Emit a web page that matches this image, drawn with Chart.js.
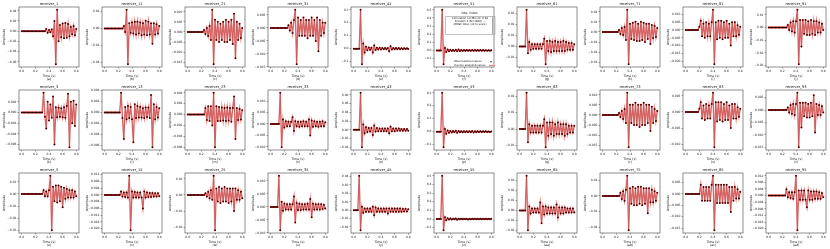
<!DOCTYPE html>
<html>
<head>
<meta charset="utf-8">
<script src="https://cdn.jsdelivr.net/npm/chart.js@4.4.1/dist/chart.umd.min.js"></script>
<style>
html, body { margin: 0; padding: 0; background: #fff; }
#grid { position: relative; width: 830px; height: 249px; }
#grid canvas { position: absolute; }
</style>
</head>
<body>
<div id="grid"></div>
<script>
// Tempo (s) comum a todos os receptores
const time = [0.00,0.02,0.04,0.06,0.08,0.10,0.12,0.14,0.16,0.18,0.20,0.22,0.24,0.26,0.28,0.30,0.32,0.34,0.36,0.38,0.40,
              0.42,0.44,0.46,0.48,0.50,0.52,0.54,0.56,0.58,0.60,0.62,0.64,0.66,0.68,0.70,0.72,0.74,0.76,0.78,0.80];
const xTicks = [0.0, 0.2, 0.4, 0.6, 0.8];

const titles = [
    'receiver_1', 'receiver_11', 'receiver_21', 'receiver_31', 'receiver_41',
    'receiver_51', 'receiver_61', 'receiver_71', 'receiver_81', 'receiver_91',
    'receiver_3', 'receiver_13', 'receiver_23', 'receiver_33', 'receiver_43',
    'receiver_53', 'receiver_63', 'receiver_73', 'receiver_83', 'receiver_93',
    'receiver_5', 'receiver_15', 'receiver_25', 'receiver_35', 'receiver_45',
    'receiver_55', 'receiver_65', 'receiver_75', 'receiver_85', 'receiver_95'
];
const panelTags = ['(a)','(b)','(c)','(d)','(e)','(f)','(g)','(h)','(i)','(j)',
                   '(k)','(l)','(m)','(n)','(o)','(p)','(q)','(r)','(s)','(t)',
                   '(u)','(v)','(w)','(x)','(y)','(z)','(aa)','(ab)','(ac)','(ad)'];

// Ticks do eixo Y de cada painel
const yTicks = [
    [0.04,0.02,0,-0.02,-0.04,-0.06], [0.02,0,-0.02,-0.04], [0.010,0.005,0,-0.005,-0.010,-0.015],
    [0.005,0,-0.005,-0.010,-0.015], [0.3,0.2,0.1,0,-0.1], [0.5,0.4,0.3,0.2,0.1,0,-0.1],
    [0.03,0.02,0.01,0,-0.01,-0.02], [0.02,0.01,0,-0.01,-0.02,-0.03], [0.010,0.005,0,-0.005,-0.010,-0.015,-0.020],
    [0.01,0,-0.01,-0.02,-0.03],
    [0.002,0,-0.002,-0.004,-0.006], [0.004,0.002,0,-0.002,-0.004,-0.006], [0.004,0.002,0,-0.002,-0.004,-0.006],
    [0.010,0.005,0,-0.005,-0.010], [0.08,0.06,0.04,0.02,0,-0.02,-0.04], [0.3,0.2,0.1,0,-0.1],
    [0.02,0.01,0,-0.01], [0.010,0.005,0,-0.005,-0.010,-0.015], [0.005,0,-0.005,-0.010],
    [0.005,0,-0.005,-0.010,-0.015],
    [0.01,0,-0.01,-0.02,-0.03], [0.012,0.008,0.004,0,-0.004,-0.008,-0.012,-0.016,-0.020], [0.01,0,-0.01,-0.02],
    [0.010,0.005,0,-0.005,-0.010], [0.04,0.03,0.02,0.01,0,-0.01,-0.02], [0.5,0.4,0.3,0.2,0.1,0,-0.1],
    [0.03,0.02,0.01,0,-0.01,-0.02], [0.01,0,-0.01,-0.02], [0.005,0,-0.005,-0.010,-0.015],
    [0.012,0.008,0.004,0,-0.004,-0.008,-0.012,-0.016,-0.020]
];

// Amplitudes lidas de cada painel (uma entrada por instante de "time")
// linha 1
const sigA = [0,0,0,0,0,0,0,0,0,0,0,0,0,0,0,0,0,0,
    0.004,-0.003,0.002,-0.002,0.003,-0.01,0.02,-0.065,0.042,-0.02,0.012,-0.012,0.015,-0.014,0.016,-0.013,0.014,-0.01,0.008,-0.006,0.01,-0.008,0.004];
const sigB = [0,0,0,0,0,0,0,0,0,0,0,0,0,0,
    0.003,-0.004,0.022,-0.042,0.006,-0.005,0.007,-0.006,0.008,-0.007,0.008,-0.006,0.007,-0.008,0.006,-0.007,0.009,-0.008,0.008,-0.007,0.006,-0.018,0.006,-0.007,0.005,-0.006,0.003];
const sigC = [0,0,0,0,0,0,0,0,0,0,0,0,
    0.001,-0.001,0.002,-0.002,0.003,-0.004,0.011,-0.016,0.006,-0.004,0.005,-0.005,0.004,-0.004,0.005,-0.005,0.006,-0.005,0.005,-0.004,0.006,-0.006,0.009,-0.013,0.005,-0.004,0.004,-0.003,0.002];
const sigD = [0,0,0,0,0,0,0,0,0,0,0,0,0,
    0.001,-0.001,0.002,-0.002,0.003,0.007,-0.014,0.004,-0.003,0.003,-0.003,0.004,-0.003,0.003,-0.004,0.003,-0.003,0.004,-0.003,0.003,-0.005,0.004,-0.009,0.003,-0.003,0.002,-0.002,0.002];
const sigE = [0,0,0,0,0,
    0.3,-0.12,0.04,-0.03,0.015,-0.012,0.01,-0.008,0.008,-0.03,0.025,-0.01,0.008,-0.006,0.007,-0.006,0.006,-0.005,0.006,-0.005,
    0.005,-0.02,0.018,-0.006,0.005,-0.005,0.005,-0.004,0.005,-0.004,0.004,-0.004,0.004,-0.003,0.003,-0.003];
const sigF = [0,0,0,0,
    0.5,-0.17,0.03,-0.02,0.012,-0.01,0.008,-0.008,0.006,-0.006,0.008,-0.01,0.012,-0.008,0.006,-0.006,0.005,-0.005,0.006,-0.005,
    0.005,-0.005,0.004,-0.004,0.004,-0.005,0.005,-0.004,0.004,-0.004,0.004,-0.004,0.003,-0.003,0.003,-0.003,0.002];
const sigG = [0,0,0,0,0,
    0.033,-0.006,0.004,-0.003,0.002,-0.002,0.002,-0.002,0.002,-0.002,0.002,-0.002,0.002,0.007,-0.016,
    0.005,-0.004,0.005,-0.005,0.004,-0.004,0.005,-0.004,0.004,-0.004,0.004,-0.004,0.005,-0.004,0.004,-0.003,0.003,-0.003,0.003,-0.003,0.002];
const sigH = [0,0,0,0,0,0,0,0,0,0,0,0,
    0.002,-0.002,0.004,-0.003,0.005,-0.008,0.022,-0.032,0.008,-0.007,0.009,-0.008,0.01,-0.009,0.008,-0.009,0.01,-0.008,0.009,-0.01,0.008,-0.007,0.008,-0.012,0.007,-0.006,0.006,-0.005,0.004];
const sigI = [0,0,0,0,0,0,0,0,0,0,
    0.002,0.006,-0.004,0.004,-0.005,0.005,-0.004,0.004,-0.004,0.005,0.013,-0.022,0.005,-0.006,0.006,-0.005,0.006,-0.006,0.005,-0.005,0.006,-0.005,0.004,-0.01,0.005,-0.004,0.005,-0.004,0.003,-0.003,0.002];
const sigJ = [0,0,0,0,0,0,0,0,0,0,0,0,0,0,
    0.002,-0.002,0.004,-0.003,0.005,-0.004,0.005,0.014,-0.029,0.006,-0.015,0.006,-0.005,0.006,-0.006,0.005,-0.006,0.006,-0.005,0.005,-0.006,0.005,-0.004,0.004,-0.004,0.003,-0.002];
// linha 2
const sigK = [0,0,0,0,0,0,0,0,0,0,0,0,0,0,0,0,
    0.0037,-0.0008,-0.003,0.002,-0.0015,0.0015,-0.001,0.003,-0.006,0.001,-0.0009,0.0009,-0.0008,0.0008,-0.0009,0.001,-0.001,0.0012,0.0035,-0.0065,0.002,-0.002,0.0022,-0.0025,0.0015];
const sigL = [0,0,0,0,0,0,0,0,0,0,0,0,
    0.0036,-0.001,-0.0048,0.001,-0.0012,0.0012,-0.001,0.001,-0.0012,-0.0054,0.0015,-0.001,0.0012,-0.0009,0.001,-0.0009,0.0008,-0.001,0.0009,-0.0008,0.0009,-0.001,0.0032,-0.0063,0.0015,-0.0012,0.001,-0.0009,0.0008];
const sigM = [0,0,0,0,0,0,0,0,0,0,0,0,0,
    0.0012,-0.001,0.0015,-0.0012,0.0015,-0.002,0.004,-0.006,0.0015,-0.0012,0.0014,-0.0012,0.0013,-0.0011,0.0012,-0.0012,0.0013,-0.0011,0.0012,-0.0013,0.0012,0.0033,-0.0045,0.0012,-0.001,0.001,-0.0009,0.0008];
const sigN = [0,0,0,0,0,0,0,
    0.0137,-0.0102,0.002,-0.0015,0.0012,-0.001,0.001,-0.001,0.001,0.003,-0.003,0.0012,-0.001,0.001,-0.0012,0.001,-0.001,0.0012,-0.001,0.001,
    -0.001,0.002,-0.005,0.0015,-0.0012,0.0012,-0.001,0.001,-0.0012,0.001,-0.001,0.0012,-0.001,0.0008];
const sigO = [0,0,0,0,0,
    0.085,-0.04,0.012,-0.008,0.006,-0.005,0.004,-0.004,0.004,-0.012,0.01,-0.004,0.004,-0.003,0.003,-0.003,0.003,-0.003,0.003,-0.003,
    0.003,-0.008,0.007,-0.003,0.003,-0.003,0.003,-0.002,0.003,-0.002,0.002,-0.002,0.002,-0.002,0.002,-0.002];
const sigP = [0,0,0,0,
    0.3,-0.12,0.02,-0.015,0.01,-0.008,0.006,-0.006,0.005,-0.005,0.008,-0.008,0.005,-0.005,0.004,-0.004,0.004,-0.004,0.004,-0.004,
    0.004,-0.004,0.006,-0.006,0.004,-0.004,0.003,-0.003,0.003,-0.003,0.003,-0.003,0.003,-0.003,0.002,-0.002,0.002];
const sigQ = [0,0,0,0,0,
    0.022,-0.008,0.003,-0.002,0.002,-0.002,0.002,-0.002,0.002,-0.002,0.002,-0.002,0.002,0.006,-0.011,0.004,-0.004,0.004,-0.003,0.004,
    -0.004,0.003,-0.003,0.004,-0.003,0.003,-0.003,0.003,-0.004,0.003,-0.003,0.002,-0.002,0.002,-0.002,0.002];
const sigR = [0,0,0,0,0,0,0,0,0,0,0,0,
    0.001,-0.001,0.002,-0.002,0.003,-0.004,0.011,-0.016,0.005,-0.004,0.005,-0.005,0.006,-0.005,0.005,-0.006,0.005,-0.005,0.006,-0.005,0.005,-0.004,0.005,-0.008,0.004,-0.004,0.003,-0.003,0.002];
const sigS = [0,0,0,0,0,0,0,0,0,0,
    0.001,0.003,-0.002,0.002,-0.0025,0.0025,-0.002,0.002,-0.002,0.0025,0.006,-0.011,0.003,-0.003,0.003,-0.0025,0.003,-0.003,0.0025,-0.0025,0.003,-0.0025,0.002,-0.005,0.0025,-0.002,0.0025,-0.002,0.0015,-0.0015,0.001];
const sigT = [0,0,0,0,0,0,0,0,0,0,0,0,0,0,
    0.001,-0.001,0.002,-0.0015,0.0025,-0.002,0.0025,0.007,-0.015,0.003,-0.007,0.003,-0.0025,0.003,-0.003,0.0025,-0.003,0.003,-0.0025,0.006,-0.009,0.0025,-0.002,0.002,-0.002,0.0015,-0.001];
// linha 3
const sigU = [0,0,0,0,0,0,0,0,0,0,0,0,0,0,0,0,
    0.003,-0.002,0.002,-0.002,0.003,0.015,-0.03,0.006,-0.006,0.007,-0.007,0.007,-0.006,0.006,-0.011,0.005,-0.004,0.004,-0.003,0.003,-0.003,0.003,-0.003,0.002,-0.002];
const sigV = [0,0,0,0,0,0,0,0,0,0,0,0,
    0.002,-0.001,0.0015,-0.0012,0.0015,-0.0015,0.0114,-0.021,0.002,-0.0015,0.0018,-0.0015,0.0015,-0.0015,0.0015,-0.0015,-0.008,0.002,-0.0015,0.0015,-0.0012,0.0012,-0.0012,0.0012,-0.001,0.001,-0.001,0.001,-0.0008];
const sigW = [0,0,0,0,0,0,0,0,0,0,0,0,0,
    0.001,-0.001,0.002,-0.002,0.003,-0.003,0.012,-0.022,0.004,-0.004,0.005,-0.005,0.004,-0.004,0.005,-0.004,0.004,-0.005,0.004,-0.004,0.004,-0.01,0.004,-0.003,0.003,-0.003,0.002,-0.002];
const sigX = [0,0,0,0,0,0,
    0.012,-0.009,0.002,-0.0015,0.0012,-0.001,0.001,-0.001,0.001,-0.001,0.001,0.004,-0.006,0.0015,-0.0012,0.0012,-0.0012,0.001,-0.001,0.001,
    -0.001,0.0012,-0.001,0.003,-0.004,0.0012,-0.001,0.001,-0.001,0.001,-0.001,0.001,-0.0008,0.0008,-0.0006];
const sigY = [0,0,0,0,
    0.041,-0.024,0.004,-0.003,0.002,-0.002,0.002,-0.002,0.002,-0.002,0.004,-0.006,0.003,-0.002,0.002,-0.002,0.002,-0.002,0.002,-0.002,
    0.002,-0.004,0.002,-0.002,0.002,-0.002,0.002,-0.002,0.002,-0.002,0.002,-0.002,0.0015,-0.0015,0.0015,-0.0015,0.001];
const sigZ = [0,0,0,0,
    0.5,-0.13,0.02,-0.015,0.008,-0.006,0.005,-0.005,0.004,-0.004,0.006,-0.008,0.004,-0.004,0.003,-0.003,0.003,-0.003,0.004,-0.005,
    0.003,-0.003,0.003,-0.003,0.003,-0.003,0.003,-0.003,0.002,-0.002,0.002,-0.002,0.002,-0.002,0.002,-0.002,0.002];
const sigAA = [0,0,0,0,0,
    0.035,-0.02,0.004,-0.003,0.002,-0.002,0.002,-0.002,0.002,-0.002,0.008,-0.013,0.004,-0.004,0.004,-0.003,0.003,-0.003,0.003,-0.003,
    0.003,-0.003,0.006,-0.007,0.003,-0.003,0.003,-0.003,0.003,-0.002,0.002,-0.002,0.002,-0.002,0.002,-0.002];
const sigAB = [0,0,0,0,0,0,0,0,0,0,0,0,0,
    0.002,-0.002,0.003,-0.003,0.004,0.013,-0.022,0.005,-0.005,0.006,-0.006,0.005,-0.006,0.006,-0.005,0.006,-0.006,0.005,-0.005,0.005,-0.011,0.005,-0.004,0.004,-0.004,0.003,-0.003,0.002];
const sigAC = [0,0,0,0,0,0,0,0,0,0,0,
    0.004,-0.003,0.003,-0.003,0.003,-0.003,0.003,-0.003,0.004,0.008,-0.016,0.004,-0.004,0.004,-0.004,0.004,-0.004,0.004,-0.004,0.004,-0.004,0.003,-0.008,0.003,-0.003,0.003,-0.002,0.002,-0.002,0.001];
const sigAD = [0,0,0,0,0,0,0,0,0,0,0,0,0,
    0.0038,-0.001,0.002,-0.0015,0.002,-0.002,0.002,0.012,-0.021,0.003,-0.0025,0.003,-0.0025,0.003,-0.0025,-0.007,0.003,-0.0025,0.0025,-0.0025,0.0025,-0.002,0.0025,-0.002,0.002,-0.002,0.0015,-0.001];

const signals = [sigA, sigB, sigC, sigD, sigE, sigF, sigG, sigH, sigI, sigJ,
                 sigK, sigL, sigM, sigN, sigO, sigP, sigQ, sigR, sigS, sigT,
                 sigU, sigV, sigW, sigX, sigY, sigZ, sigAA, sigAB, sigAC, sigAD];

const FONT = '"DejaVu Sans", sans-serif';
Chart.defaults.font.family = FONT;

// Moldura, títulos e legenda (estilo matplotlib)
const framePlugin = {
    id: 'frame',
    afterDraw(chart, args, opts) {
        const { ctx, chartArea: a } = chart;
        const cx = (a.left + a.right) / 2;
        ctx.save();
        ctx.strokeStyle = '#444';
        ctx.lineWidth = 0.6;
        ctx.strokeRect(a.left, a.top, a.right - a.left, a.bottom - a.top);

        ctx.fillStyle = '#111';
        ctx.textAlign = 'center';
        ctx.textBaseline = 'middle';
        ctx.font = '3.6px ' + FONT;
        ctx.fillText(opts.title, cx, a.top - 3);
        ctx.font = '3.2px ' + FONT;
        ctx.fillText('Time (s)', cx, a.bottom + 9.3);
        ctx.fillText(opts.tag, cx, a.bottom + 12.4);

        if (opts.legend) {
            ctx.font = '3px ' + FONT;
            ctx.fillText('Obs. index:', a.left + 36, a.top + 6.3);
            ctx.strokeStyle = '#999';
            ctx.lineWidth = 0.6;
            ctx.strokeRect(a.left + 11.7, a.top + 9.7, 49.3, 17.6);
            ctx.fillStyle = '#aaa';
            ctx.fillRect(a.right - 2, a.top + 9.7, 1.2, 17.6);
            ctx.fillStyle = '#111';
            ctx.font = '2.6px ' + FONT;
            ctx.fillText('Correlation coefficient: 0.98', a.left + 36, a.top + 11.4);
            ctx.fillText('Iteration 1 (N=1000) \u2014', a.left + 36, a.top + 14);
            ctx.fillText('(RMSE total, not to scale)', a.left + 36, a.top + 17);

            ctx.textAlign = 'left';
            ctx.fillText('Observational values', a.left + 20.3, a.bottom - 5.3);
            ctx.fillText('Inverse analyzed values', a.left + 20.3, a.bottom - 1.5);
            ctx.beginPath();
            ctx.arc(a.left + 57, a.bottom - 5.3, 0.7, 0, Math.PI * 2);
            ctx.fill();
            ctx.strokeStyle = '#ef8a8a';
            ctx.lineWidth = 1.3;
            ctx.beginPath();
            ctx.moveTo(a.left + 55, a.bottom - 1.5);
            ctx.lineTo(a.left + 61, a.bottom - 1.5);
            ctx.stroke();
        }

        ctx.fillStyle = '#111';
        ctx.font = '3.2px ' + FONT;
        ctx.textAlign = 'center';
        ctx.translate(4, (a.top + a.bottom) / 2);
        ctx.rotate(-Math.PI / 2);
        ctx.fillText('Amplitude', 0, 0);
        ctx.restore();
    }
};

function casasDecimais(ticks) {
    return Math.max(...ticks.map(v => (String(v).split('.')[1] || '').length));
}

const grid = document.getElementById('grid');

signals.forEach((sig, i) => {
    const col = i % 10;
    const row = Math.floor(i / 10);
    const canvas = document.createElement('canvas');
    canvas.width = 83;
    canvas.height = 83;
    canvas.style.left = (col * 83) + 'px';
    canvas.style.top = (row * 83) + 'px';
    grid.appendChild(canvas);

    const pts = time.map((t, k) => ({ x: t, y: sig[k] }));
    const lo = Math.min(...sig);
    const hi = Math.max(...sig);
    const pad = (hi - lo) * 0.05;
    const yMin = lo - pad;
    const yMax = hi + pad;
    const ticksY = yTicks[i].filter(v => v >= yMin && v <= yMax);
    const dec = casasDecimais(yTicks[i]);

    new Chart(canvas, {
        type: 'line',
        data: {
            datasets: [
                {
                    // primeiro dataset fica por cima
                    label: 'Observational values',
                    data: pts,
                    borderColor: 'rgba(30,0,0,0.35)',
                    borderWidth: 0.4,
                    pointRadius: 0.75,
                    pointBackgroundColor: '#1a0505',
                    pointBorderWidth: 0,
                    tension: 0
                },
                {
                    label: 'Inverse analyzed values',
                    data: pts,
                    borderColor: '#ec7474',
                    borderWidth: 1.4,
                    pointRadius: 1,
                    pointBackgroundColor: '#cc1515',
                    pointBorderWidth: 0,
                    tension: 0
                }
            ]
        },
        options: {
            responsive: false,
            animation: false,
            events: [],
            layout: { padding: { top: 7, right: 1, left: 0, bottom: 0 } },
            plugins: {
                legend: { display: false },
                tooltip: { enabled: false },
                frame: { title: titles[i], tag: panelTags[i], legend: i === 5 }
            },
            scales: {
                x: {
                    type: 'linear',
                    min: -0.04,
                    max: 0.84,
                    afterBuildTicks: s => { s.ticks = xTicks.map(v => ({ value: v })); },
                    afterFit: s => { s.height = 16; },
                    ticks: {
                        font: { size: 3 },
                        color: '#222',
                        padding: 1,
                        maxRotation: 0,
                        autoSkip: false,
                        callback: v => v.toFixed(1)
                    },
                    grid: { drawOnChartArea: false, tickLength: 1.5, color: '#444', lineWidth: 0.5 },
                    border: { display: false }
                },
                y: {
                    type: 'linear',
                    min: yMin,
                    max: yMax,
                    afterBuildTicks: s => { s.ticks = ticksY.map(v => ({ value: v })); },
                    afterFit: s => { s.width = 19; },
                    ticks: {
                        font: { size: 3 },
                        color: '#222',
                        padding: 1,
                        autoSkip: false,
                        callback: v => v.toFixed(dec).replace('-', '\u2212')
                    },
                    grid: { drawOnChartArea: false, tickLength: 1.5, color: '#444', lineWidth: 0.5 },
                    border: { display: false }
                }
            }
        },
        plugins: [framePlugin]
    });
});
</script>
</body>
</html>
